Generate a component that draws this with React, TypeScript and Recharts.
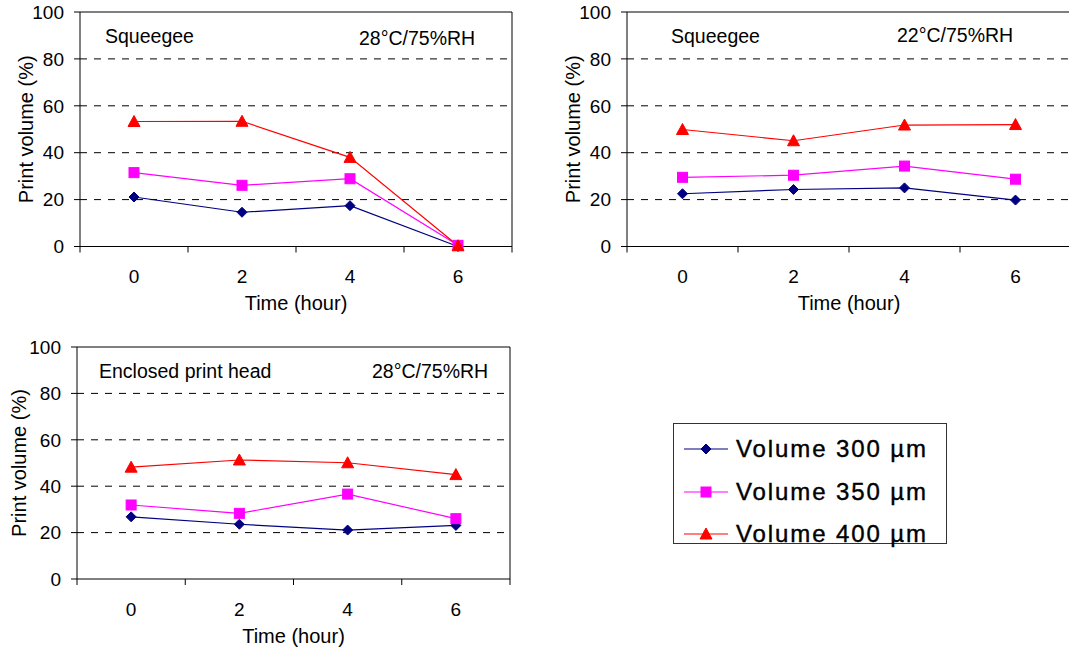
import { Line, LineChart, ReferenceLine, XAxis, YAxis } from "recharts";

const FONT = '"Liberation Sans", Arial, Helvetica, sans-serif';

// hours after start, plus the category edges used for tick marks
const hours = [0, 2, 4, 6];
const xTicks = [-1, 0, 1, 2, 3, 4, 5, 6, 7];
const yTicks = [0, 20, 40, 60, 80, 100];
const gridValues = [20, 40, 60, 80];

const seriesKeys = ["v300", "v350", "v400"];
const seriesNames = ["Volume 300 µm", "Volume 350 µm", "Volume 400 µm"];
const seriesColors = ["#000080", "#FF00FF", "#FF0000"];
const seriesShapes = ["diamond", "square", "triangle"];

// Squeegee, 28°C/75%RH
const sq28v300 = [21.1, 14.6, 17.4, 0];
const sq28v350 = [31.5, 26.1, 28.9, 0.5];
const sq28v400 = [53.3, 53.4, 38.0, 0.3];

// Squeegee, 22°C/75%RH
const sq22v300 = [22.5, 24.3, 25.0, 19.8];
const sq22v350 = [29.5, 30.4, 34.3, 28.7];
const sq22v400 = [49.9, 45.1, 51.8, 52.0];

// Enclosed print head, 28°C/75%RH
const eh28v300 = [26.8, 23.6, 21.1, 23.1];
const eh28v350 = [31.9, 28.3, 36.6, 26.0];
const eh28v400 = [48.2, 51.3, 50.1, 45.0];

const toRows = (a: number[], b: number[], c: number[]) =>
  hours.map((hour, i) => ({ hour, v300: a[i], v350: b[i], v400: c[i] }));

function Marker({ cx, cy, shape, color }: any) {
  if (cx == null || cy == null) return null;
  if (shape === "diamond") {
    return (
      <polygon
        points={`${cx},${cy - 5} ${cx + 5},${cy} ${cx},${cy + 5} ${cx - 5},${cy}`}
        fill={color}
        stroke={color}
      />
    );
  }
  if (shape === "square") {
    return <rect x={cx - 5} y={cy - 5} width={10} height={10} fill={color} stroke={color} />;
  }
  return (
    <polygon
      points={`${cx},${cy - 6} ${cx + 6},${cy + 5} ${cx - 6},${cy + 5}`}
      fill={color}
      stroke={color}
    />
  );
}

function HourTick(props: any) {
  const { x, y, payload } = props;
  const v = payload.value;
  if (v % 2 !== 0) {
    return <line x1={x} x2={x} y1={y} y2={y + 6} stroke="#000" />;
  }
  return (
    <text x={x} y={y + 36.5} textAnchor="middle" fontSize={19} fill="#000">
      {v}
    </text>
  );
}

const yTitle = (gap: number) => (props: any) => {
  const vb = props.viewBox ?? props;
  const cx = vb.x + vb.width - gap;
  const cy = vb.y + vb.height / 2;
  return (
    <text
      x={cx}
      y={cy}
      transform={`rotate(-90 ${cx} ${cy})`}
      textAnchor="middle"
      dominantBaseline="central"
      fontSize={20}
      fill="#000"
    >
      Print volume (%)
    </text>
  );
};

const xTitle = (props: any) => {
  const vb = props.viewBox ?? props;
  return (
    <text x={vb.x + vb.width / 2} y={vb.y + 63.5} textAnchor="middle" fontSize={20} fill="#000">
      Time (hour)
    </text>
  );
};

interface PanelProps {
  left: number;
  top: number;
  width: number;
  height: number;
  marginTop: number;
  marginRight: number;
  yAxisWidth: number;
  xAxisHeight: number;
  yTitleGap: number;
  title: string;
  titleX: number;
  titleY: number;
  condition: string;
  conditionX: number;
  conditionY: number;
  data: Record<string, number>[];
}

function Panel(p: PanelProps) {
  return (
    <div style={{ position: "absolute", left: p.left, top: p.top, width: p.width, height: p.height }}>
      <LineChart
        width={p.width}
        height={p.height}
        data={p.data}
        margin={{ top: p.marginTop, right: p.marginRight, left: 0, bottom: 0 }}
      >
        <XAxis
          dataKey="hour"
          type="number"
          domain={[-1, 7]}
          ticks={xTicks}
          interval={0}
          tickLine={false}
          tickSize={0}
          tickMargin={0}
          height={p.xAxisHeight}
          axisLine={{ stroke: "#000" }}
          tick={(t: any) => <HourTick key={`t-${t.index}`} {...t} />}
          label={xTitle}
        />
        <YAxis
          type="number"
          domain={[0, 100]}
          ticks={yTicks}
          interval={0}
          width={p.yAxisWidth}
          tickSize={6}
          tickMargin={10}
          axisLine={{ stroke: "#000" }}
          tickLine={{ stroke: "#000" }}
          tick={{ fontSize: 19, fill: "#000" }}
          label={yTitle(p.yTitleGap)}
        />
        {gridValues.map((v) => (
          <ReferenceLine key={v} y={v} stroke="#000" strokeDasharray="7 7" />
        ))}
        <ReferenceLine y={100} stroke="#000" />
        <ReferenceLine x={7} stroke="#000" />
        {seriesKeys.map((k, i) => (
          <Line
            key={k}
            dataKey={k}
            name={seriesNames[i]}
            stroke={seriesColors[i]}
            strokeWidth={1.2}
            isAnimationActive={false}
            dot={(d: any) => (
              <Marker key={`${k}-${d.index}`} cx={d.cx} cy={d.cy} shape={seriesShapes[i]} color={seriesColors[i]} />
            )}
            activeDot={false}
          />
        ))}
      </LineChart>
      <svg
        width={p.width}
        height={p.height}
        style={{ position: "absolute", left: 0, top: 0, pointerEvents: "none" }}
      >
        <text x={p.titleX} y={p.titleY} fontSize={19.5} fill="#000">
          {p.title}
        </text>
        <text x={p.conditionX} y={p.conditionY} fontSize={19.5} fill="#000">
          {p.condition}
        </text>
      </svg>
    </div>
  );
}

function LegendBox() {
  return (
    <div
      style={{
        position: "absolute",
        left: 673,
        top: 423,
        width: 272,
        height: 119,
        border: "1.5px solid #333",
        background: "#fff",
      }}
    >
      {seriesNames.map((name, i) => (
        <div
          key={name}
          style={{ position: "absolute", left: 0, top: 25 + i * 42.5 - 15, height: 30, width: 270 }}
        >
          <svg width={56} height={30} style={{ position: "absolute", left: 8, top: 0 }}>
            <line x1={2} x2={46} y1={15} y2={15} stroke={seriesColors[i]} strokeWidth={1.2} />
            <Marker cx={24} cy={15} shape={seriesShapes[i]} color={seriesColors[i]} />
          </svg>
          <span
            style={{
              position: "absolute",
              left: 62,
              top: 0,
              lineHeight: "30px",
              fontSize: 24,
              letterSpacing: 1.9,
              color: "#000",
              whiteSpace: "nowrap",
              WebkitTextStroke: "0.4px #000",
            }}
          >
            {name}
          </span>
        </div>
      ))}
    </div>
  );
}

export default function App() {
  return (
    <div
      style={{
        position: "absolute",
        left: 0,
        top: 0,
        width: 1069,
        height: 650,
        overflow: "hidden",
        background: "#fff",
        fontFamily: FONT,
      }}
    >
      <Panel
        left={0}
        top={0}
        width={540}
        height={325}
        marginTop={12}
        marginRight={28}
        yAxisWidth={80}
        xAxisHeight={78.5}
        yTitleGap={54}
        title="Squeegee"
        titleX={105}
        titleY={43}
        condition="28°C/75%RH"
        conditionX={359}
        conditionY={45}
        data={toRows(sq28v300, sq28v350, sq28v400)}
      />
      <Panel
        left={540}
        top={0}
        width={540}
        height={325}
        marginTop={12}
        marginRight={9}
        yAxisWidth={87}
        xAxisHeight={78.5}
        yTitleGap={54}
        title="Squeegee"
        titleX={131}
        titleY={43}
        condition="22°C/75%RH"
        conditionX={357}
        conditionY={42}
        data={toRows(sq22v300, sq22v350, sq22v400)}
      />
      <Panel
        left={0}
        top={330}
        width={540}
        height={325}
        marginTop={17}
        marginRight={30}
        yAxisWidth={77}
        xAxisHeight={76}
        yTitleGap={58}
        title="Enclosed print head"
        titleX={99}
        titleY={48}
        condition="28°C/75%RH"
        conditionX={372}
        conditionY={48}
        data={toRows(eh28v300, eh28v350, eh28v400)}
      />
      <LegendBox />
    </div>
  );
}
